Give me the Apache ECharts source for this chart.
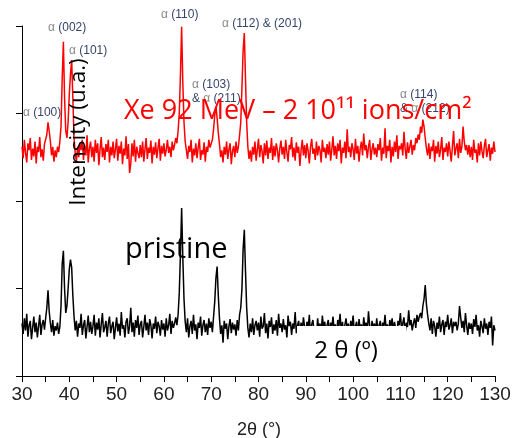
<!DOCTYPE html>
<html><head><meta charset="utf-8">
<script src="https://cdn.jsdelivr.net/npm/echarts@6/dist/echarts.min.js"></script>
<style>html,body{margin:0;padding:0;background:#fff}#c{width:514px;height:438px}</style>
</head><body><div id="c"></div>
<script>
// 2θ sampling grid (degrees)
const thetaStart = 30, thetaStep = 0.25;
// Xe 92 MeV – 2e11 ions/cm² (red), arbitrary units
const irradiated = [
262,249,270,255,244,266,258,272,247,260,251,268,243,262,256,273,250,259,246,265,
266,276,290,280,268,252,262,245,258,250,262,256,268,285,340,382,318,280,272,290,
322,345,361,318,272,255,245,262,250,266,
258,270,247,263,252,275,244,260,268,250,
262,245,270,255,266,241,259,273,250,261,247,265,256,270,244,262,252,268,249,259,
271,246,263,254,268,242,260,252,274,248,265,232,243,266,251,270,245,262,255,249,
264,250,268,245,259,272,248,261,255,269,243,262,253,267,249,260,271,246,263,254,
266,251,259,270,255,262,250,268,258,264,272,266,280,300,345,399,335,290,268,258,
248,263,256,270,244,260,252,266,249,261,271,247,258,253,267,245,262,256,270,261,
262,270,282,298,308,295,278,265,250,258,
244,262,253,268,248,259,266,242,257,263,250,268,255,262,275,
290,330,372,392,340,290,262,248,258,245,
262,253,268,246,259,271,250,264,257,243,266,252,269,248,261,255,272,247,263,251,266,258,244,260,269,
253,262,248,270,256,245,264,259,273,250,261,246,267,255,262,240,258,270,252,264,249,266,257,243,262,271,254,260,247,268,252,263,258,244,270,256,261,249,265,253,
268,246,259,274,252,263,248,266,257,270,243,261,255,268,249,282,256,262,250,266,259,247,271,254,263,245,260,268,252,277,258,264,249,262,270,247,259,266,253,261,
250,265,258,272,246,261,254,283,249,263,257,270,244,262,251,268,256,275,248,263,259,266,252,279,260,248,267,255,262,270,253,264,258,272,266,276,270,285,278,293,
285,272,260,252,266,248,262,257,270,245,263,254,268,250,259,273,247,261,256,266,
251,268,257,245,263,280,252,260,266,249,271,255,262,285,268,258,264,253,264,250,
262,247,270,255,259,244,266,252,268,257,249,263,271,250,258,265,246,261,254,268,256
];
// pristine (black), arbitrary units
const pristine = [
60,48,66,52,71,45,58,63,42,55,68,50,61,44,57,70,47,59,64,53,
66,78,98,74,60,50,64,46,57,52,61,48,56,80,128,143,100,72,80,100,
122,133,124,92,68,52,63,45,60,55,71,47,58,64,43,56,69,50,62,48,
57,70,46,61,53,66,44,59,72,50,56,63,45,60,68,49,57,62,42,55,
67,51,60,46,73,54,58,44,62,66,48,57,78,50,61,45,64,55,69,47,
59,63,44,56,70,52,61,47,65,58,43,60,54,68,49,62,57,46,64,53,
60,45,66,52,58,71,48,63,55,60,67,58,70,95,140,192,135,88,62,50,
66,44,57,63,48,70,52,59,42,61,55,68,46,58,64,50,60,47,66,55,
62,50,68,85,112,125,92,66,48,58,38,63,54,60,42,57,65,49,61,53,
59,46,64,52,70,78,100,145,167,120,78,55,44,60,50,66,47,58,63,52,
61,45,68,54,57,72,49,60,43,63,56,67,48,59,52,64,46,71,55,60,
50,65,53,58,44,69,57,62,47,60,54,73,49,58,63,45,61,52,67,56,48,62,55,70,46,59,64,51,57,44,66,53,60,48,69,55,62,50,58,64,
47,61,55,68,52,59,45,64,57,71,50,62,48,58,66,53,60,44,63,55,69,51,57,62,46,65,54,59,48,67,56,61,50,74,58,45,63,55,60,52,
66,49,58,63,47,61,55,70,52,59,45,64,57,66,50,62,54,48,63,58,72,53,60,67,49,61,56,75,58,64,52,60,66,55,70,62,68,72,66,80,
88,104,82,70,60,52,66,48,63,57,45,61,54,68,50,59,64,47,62,56,
70,53,58,66,49,62,57,62,52,60,80,67,55,63,50,72,58,47,61,54,
60,48,65,56,70,52,58,45,63,57,49,66,54,60,47,62,55,68,35,58,52
];
// peak annotations
const peakLabels = [
  {hkl:'(100)', pre:''},{hkl:'(002)', pre:''},{hkl:'(101)', pre:''},{hkl:'(110)', pre:''},
  {hkl:'(103)', pre:''},{hkl:'(211)', pre:'& '},{hkl:'(112) & (201)', pre:''},{hkl:'(114)', pre:''},{hkl:'(212)', pre:'& '}
];
const labelPos = [[23,113],[48,28],[69,51],[161,15],[192,85],[192,99],[222,24],[400,95],[400,109]];

const toPairs = arr => arr.map((v, i) => [thetaStart + i * thetaStep, v]);
const chart = echarts.init(document.getElementById('c'), null, {renderer:'canvas'});
const tickFont = 'Liberation Sans, Arial, sans-serif';
const graphics = peakLabels.map((p, k) => ({
  type:'text', x: labelPos[k][0], y: labelPos[k][1], z: 50,
  style:{
    text: (p.pre ? '{b|' + p.pre + '}' : '') + '{a|α} {b|' + p.hkl + '}',
    font: '12px ' + tickFont, align:'left', verticalAlign:'middle',
    rich:{a:{fill:'#8a8a8a', color:'#8a8a8a', font:'12px ' + tickFont}, b:{fill:'#35456a', color:'#35456a', font:'12px ' + tickFont}}
  }
}));
graphics.push(
  {type:'rect', z:60, shape:{x:297, y:326, width:109, height:48}, style:{fill:'#fff'}},
  {type:'text', z:61, x:346, y:351, style:{text:'2 θ (º)', font:'24px "Open Sans"', fill:'#000', align:'center', verticalAlign:'middle'}},
  {type:'text', z:70, x:79, y:132, rotation: Math.PI/2, style:{text:'Intensity (u.a.)', font:'22.5px "Open Sans"', fill:'#000', align:'center', verticalAlign:'middle'}},
  {type:'text', z:70, x:124, y:111, style:{text:'Xe 92 MeV – 2 10¹¹ ions/cm²', font:'27px "Open Sans"', fill:'#ff0000', align:'left', verticalAlign:'middle'}},
  {type:'text', z:70, x:125, y:250, style:{text:'pristine', font:'29px "Open Sans"', fill:'#000', align:'left', verticalAlign:'middle'}},
  {type:'text', z:70, x:259, y:430, style:{text:'2θ (°)', font:'18px ' + tickFont, fill:'#222', align:'center', verticalAlign:'middle'}}
);
chart.setOption({
  animation:false,
  grid:{left:22, right:19, top:26, bottom:62, containLabel:false},
  xAxis:{
    type:'value', min:30, max:130, interval:10,
    axisLine:{show:true, lineStyle:{color:'#000', width:1}},
    axisTick:{show:true, inside:false, length:6, lineStyle:{color:'#000'}},
    minorTick:{show:true, splitNumber:2, length:6, lineStyle:{color:'#000'}},
    axisLabel:{show:true, fontFamily:tickFont, fontSize:19, color:'#222', margin:9},
    splitLine:{show:false}
  },
  yAxis:{
    type:'value', min:0, max:400, interval:100,
    axisLine:{show:true, lineStyle:{color:'#000', width:1}},
    axisTick:{show:true, inside:false, length:6, lineStyle:{color:'#000'}},
    axisLabel:{show:false},
    splitLine:{show:false}
  },
  series:[
    {type:'line', name:'irradiated', data:toPairs(irradiated), symbol:'none', sampling:null,
     lineStyle:{color:'#ff0000', width:1.5}, z:3},
    {type:'line', name:'pristine', data:toPairs(pristine), symbol:'none', sampling:null,
     lineStyle:{color:'#000000', width:1.5}, z:3}
  ],
  graphic:{elements:graphics}
});
</script></body></html>
